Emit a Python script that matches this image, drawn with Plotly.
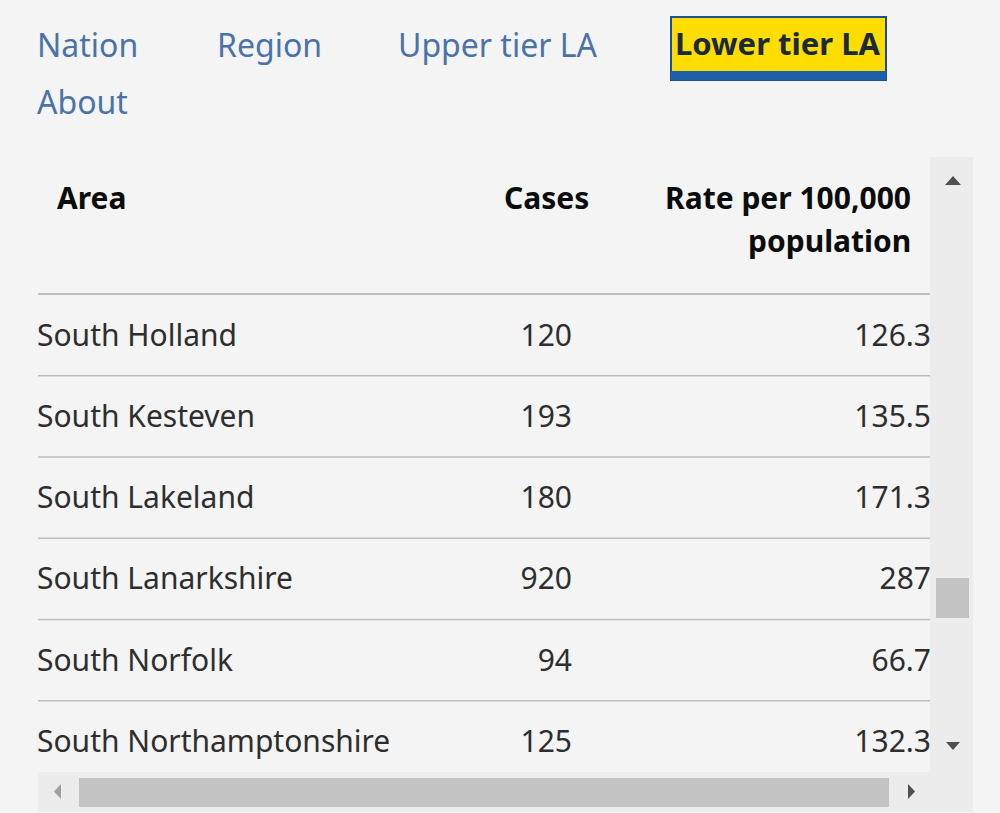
import plotly.graph_objects as go

# navigation tabs
nav_labels = ["Nation", "Region", "Upper tier LA", "Lower tier LA", "About"]
nav_selected = "Lower tier LA"

# table
header_area = "Area"
header_cases = "Cases"
header_rate = ["Rate per 100,000", "population"]
areas = ["South Holland", "South Kesteven", "South Lakeland",
         "South Lanarkshire", "South Norfolk", "South Northamptonshire"]
cases = [120, 193, 180, 920, 94, 125]
rates = ["126.3", "135.5", "171.3", "287", "66.7", "132.3"]

BG = "#f4f4f4"
LINK = "#4a73a9"
INK = "#0b0c0c"
BODY = "#2e2e2e"
RULE = "#bdbdbd"
FONT = "Noto Sans"

nav_x = [36, 216, 397, 674, 36]
nav_y = [44, 44, 44, 44, 101]

row_y0 = 338
row_h = 81.3
row_y = [row_y0 + i * row_h for i in range(len(areas))]

fig = go.Figure()

# nav links
for lab, x, y in zip(nav_labels, nav_x, nav_y):
    if lab == nav_selected:
        fig.add_shape(type="rect", x0=671, x1=886, y0=17, y1=80,
                      fillcolor="#ffdd00", line=dict(color="#1d4f91", width=2), layer="below")
        fig.add_shape(type="rect", x0=671, x1=886, y0=71, y1=80,
                      fillcolor="#1d5fa8", line=dict(width=0), layer="below")
        fig.add_annotation(x=x, y=y - 1, text=f"<b>{lab}</b>", showarrow=False, xanchor="left",
                           borderpad=0, font=dict(family=FONT, size=31, color="#1b2a3a"))
    else:
        fig.add_annotation(x=x, y=y, text=lab, showarrow=False, xanchor="left",
                           borderpad=0, font=dict(family=FONT, size=32, color=LINK))

# scrollbars
fig.add_shape(type="rect", x0=930, x1=973, y0=157, y1=812,
              fillcolor="#ececec", line=dict(width=0), layer="below")
fig.add_shape(type="rect", x0=936, x1=969, y0=578, y1=618,
              fillcolor="#c3c3c3", line=dict(width=0), layer="below")
fig.add_shape(type="rect", x0=38, x1=930, y0=772, y1=812,
              fillcolor="#ececec", line=dict(width=0), layer="below")
fig.add_shape(type="rect", x0=79, x1=889, y0=778, y1=807,
              fillcolor="#c3c3c3", line=dict(width=0), layer="below")
fig.add_shape(type="path", path="M 945 185 L 961 185 L 953 176 Z",
              fillcolor="#505050", line=dict(width=0))
fig.add_shape(type="path", path="M 946 742 L 960 742 L 953 750 Z",
              fillcolor="#505050", line=dict(width=0))
fig.add_shape(type="path", path="M 61 784 L 61 799 L 54 791.5 Z",
              fillcolor="#a0a0a0", line=dict(width=0))
fig.add_shape(type="path", path="M 908 784 L 908 799 L 915 791.5 Z",
              fillcolor="#505050", line=dict(width=0))

# header
hfont = dict(family=FONT, size=30, color=INK)
fig.add_annotation(x=56, y=197, text=f"<b>{header_area}</b>", showarrow=False,
                   xanchor="left", borderpad=0, font=hfont)
fig.add_annotation(x=590, y=197, text=f"<b>{header_cases}</b>", showarrow=False,
                   xanchor="right", borderpad=0, font=hfont)
for i, line in enumerate(header_rate):
    fig.add_annotation(x=912, y=197 + 43 * i, text=f"<b>{line}</b>", showarrow=False,
                       xanchor="right", borderpad=0, font=hfont)
fig.add_shape(type="line", x0=38, x1=930, y0=294, y1=294, line=dict(color=RULE, width=2))

# row separators
for y in row_y[:-1]:
    fig.add_shape(type="line", x0=38, x1=930, y0=y + row_h / 2 - 3, y1=y + row_h / 2 - 3,
                  line=dict(color=RULE, width=1.5))

# cells
cfont = dict(family=FONT, size=30, color=BODY)
fig.add_trace(go.Scatter(x=[37] * len(areas), y=row_y, text=areas, mode="text",
                         textposition="middle right", textfont=cfont, hoverinfo="skip"))
fig.add_trace(go.Scatter(x=[572] * len(cases), y=row_y, text=[str(c) for c in cases], mode="text",
                         textposition="middle left", textfont=cfont, hoverinfo="skip"))
fig.add_trace(go.Scatter(x=[931] * len(rates), y=row_y, text=rates, mode="text",
                         textposition="middle left", textfont=cfont, hoverinfo="skip"))

fig.update_layout(
    width=1000, height=813,
    margin=dict(l=0, r=0, t=0, b=0),
    paper_bgcolor=BG, plot_bgcolor=BG,
    showlegend=False,
    xaxis=dict(range=[0, 1000], visible=False, fixedrange=True),
    yaxis=dict(range=[813, 0], visible=False, fixedrange=True),
)

fig.write_html("out.html", config=dict(displayModeBar=False),
               post_script="document.body.style.margin='0';")
